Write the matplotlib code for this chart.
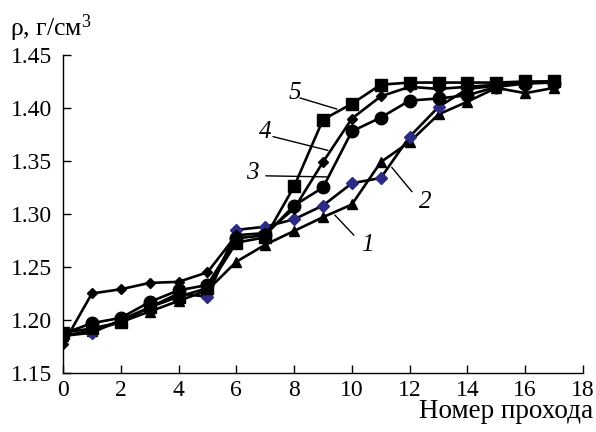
import matplotlib
matplotlib.use("Agg")
import matplotlib.pyplot as plt

plt.rcParams['font.family'] = ['Liberation Serif', 'DejaVu Serif']
plt.rcParams['mathtext.fontset'] = 'custom'
plt.rcParams['mathtext.rm'] = 'Liberation Serif'
plt.rcParams['mathtext.it'] = 'Liberation Serif:italic'

passes = list(range(18))
s1 = [1.185, 1.190, 1.198, 1.208, 1.218, 1.228, 1.255, 1.271, 1.284, 1.297, 1.309, 1.349, 1.368, 1.394, 1.406, 1.419, 1.414, 1.419]
s2 = [1.185, 1.188, 1.200, 1.212, 1.225, 1.222, 1.285, 1.288, 1.295, 1.308, 1.329, 1.334, 1.373, 1.401, 1.418, 1.421, 1.424, 1.425]
s3 = [1.187, 1.197, 1.202, 1.217, 1.228, 1.233, 1.277, 1.280, 1.308, 1.325, 1.378, 1.391, 1.407, 1.409, 1.412, 1.420, 1.423, 1.424]
s4 = [1.177, 1.225, 1.229, 1.235, 1.236, 1.245, 1.280, 1.282, 1.305, 1.349, 1.390, 1.411, 1.420, 1.418, 1.420, 1.422, 1.424, 1.425]
s5 = [1.188, 1.192, 1.198, 1.212, 1.222, 1.230, 1.273, 1.278, 1.326, 1.389, 1.404, 1.422, 1.424, 1.424, 1.424, 1.424, 1.425, 1.425]

xticks = [0, 2, 4, 6, 8, 10, 12, 14, 16, 18]
yticks = [1.15, 1.20, 1.25, 1.30, 1.35, 1.40, 1.45]

fig = plt.figure(figsize=(5.96, 4.32), dpi=100)
ax = fig.add_axes([63/596, 1-373/432, 520/596, 318/432])

lw = 1.9
ax.plot(passes, s1, color='black', lw=lw, marker='^', ms=7.5)
ax.plot(passes, s2, color='black', lw=lw, marker='D', ms=6.5, mfc='#2b2b85', mec='#2b2b85')
ax.plot(passes, s3, color='black', lw=lw, marker='o', ms=9)
ax.plot(passes, s4, color='black', lw=lw, marker='D', ms=5.5)
ax.plot(passes, s5, color='black', lw=lw, marker='s', ms=9)

ax.set_xlim(0, 18)
ax.set_ylim(1.15, 1.45)
ax.set_xticks(xticks)
ax.set_yticks(yticks)
ax.set_yticklabels([f"{v:.2f}" for v in yticks])
for s in ['top', 'right']:
    ax.spines[s].set_visible(False)
for s in ['left', 'bottom']:
    ax.spines[s].set_linewidth(1.0)
ax.tick_params(direction='in', length=6, width=1.0, labelsize=17)
ax.tick_params(axis='y', pad=8)
ax.tick_params(axis='x', pad=5)

fig.text(10/596, 1-36/432, "ρ, г/см$^3$", fontsize=18.5, ha='left', va='baseline')
fig.text(593/596, 1-418/432, "Номер прохода", fontsize=19.5, ha='right', va='baseline')

labels = [
    ("5", (8.03, 1.414), (8.2, 1.4095), (9.48, 1.399)),
    ("4", (6.99, 1.377), (7.27, 1.373), (9.17, 1.360)),
    ("3", (6.54, 1.339), (7.02, 1.336), (9.13, 1.335)),
    ("2", (12.53, 1.311), (12.08, 1.321), (11.38, 1.344)),
    ("1", (10.52, 1.271), (10.07, 1.280), (9.41, 1.299)),
]
for txt, tpos, p0, p1 in labels:
    ax.text(tpos[0], tpos[1], txt, fontsize=18, style='italic', ha='center', va='center')
    ax.annotate("", xy=p1, xytext=p0,
                arrowprops=dict(arrowstyle='-', color='black', lw=1.0, shrinkA=0, shrinkB=0))

fig.savefig("out.png", dpi=100)
